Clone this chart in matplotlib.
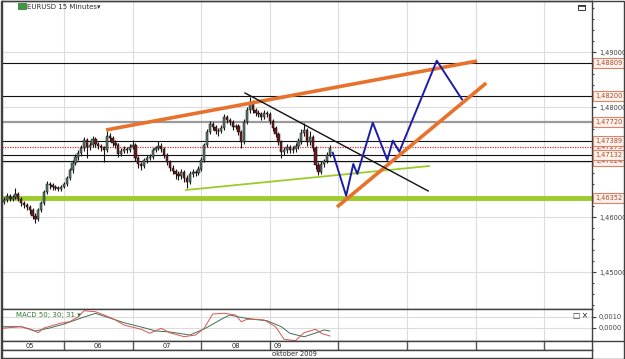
import numpy as np
import matplotlib.pyplot as plt
from matplotlib.patches import Rectangle
import matplotlib.transforms as mtransforms

# EURUSD, hourly bars, time in hours from 5 Oct 2009 00:00, prices in pips
hours = list(range(3, 118))
first_open = 14628
closes = [14631, 14638, 14633, 14636, 14642, 14633, 14625, 14622, 14618, 14613,
          14602, 14596, 14613, 14625, 14645, 14660, 14658, 14655, 14653, 14651,
          14655, 14660, 14671, 14685, 14698, 14709, 14716, 14725, 14740, 14727,
          14731, 14742, 14733, 14729, 14727, 14722, 14747, 14744, 14735, 14731,
          14715, 14720, 14724, 14722, 14727, 14731, 14707, 14696, 14693, 14704,
          14707, 14709, 14722, 14725, 14729, 14724, 14713, 14700, 14689, 14684,
          14678, 14675, 14682, 14671, 14664, 14678, 14682, 14680, 14687, 14704,
          14731, 14755, 14769, 14764, 14756, 14756, 14762, 14782, 14776, 14773,
          14764, 14765, 14755, 14736, 14773, 14795, 14809, 14795, 14789, 14787,
          14782, 14789, 14787, 14775, 14762, 14751, 14736, 14718, 14722, 14727,
          14722, 14724, 14729, 14738, 14753, 14758, 14736, 14745, 14725, 14695,
          14682, 14696, 14702, 14713, 14725]
highs = [14637, 14643, 14641, 14640, 14653, 14645, 14636, 14629, 14626, 14622,
         14616, 14607, 14617, 14629, 14649, 14666, 14664, 14662, 14659, 14657,
         14659, 14664, 14675, 14689, 14703, 14714, 14721, 14731, 14746, 14743,
         14737, 14747, 14745, 14737, 14733, 14730, 14756, 14752, 14748, 14740,
         14735, 14725, 14729, 14728, 14732, 14740, 14735, 14711, 14700, 14708,
         14712, 14714, 14726, 14730, 14738, 14734, 14728, 14717, 14704, 14694,
         14688, 14683, 14688, 14686, 14676, 14683, 14687, 14686, 14692, 14709,
         14735, 14760, 14775, 14773, 14768, 14762, 14767, 14787, 14786, 14780,
         14777, 14770, 14769, 14758, 14778, 14800, 14818, 14812, 14799, 14794,
         14791, 14795, 14793, 14791, 14779, 14766, 14755, 14740, 14727, 14732,
         14731, 14729, 14734, 14743, 14760, 14771, 14762, 14756, 14749, 14729,
         14700, 14701, 14706, 14718, 14731]
lows = [14624, 14627, 14629, 14630, 14633, 14629, 14620, 14616, 14612, 14606,
        14597, 14590, 14593, 14609, 14621, 14641, 14651, 14650, 14649, 14647,
        14648, 14652, 14656, 14667, 14680, 14694, 14704, 14711, 14720, 14707,
        14722, 14727, 14728, 14724, 14720, 14700, 14718, 14738, 14730, 14726,
        14709, 14711, 14716, 14717, 14718, 14723, 14702, 14690, 14686, 14689,
        14699, 14703, 14705, 14718, 14721, 14719, 14708, 14695, 14684, 14678,
        14670, 14668, 14670, 14663, 14653, 14660, 14673, 14675, 14676, 14683,
        14700, 14727, 14751, 14759, 14751, 14747, 14752, 14758, 14771, 14768,
        14759, 14760, 14750, 14725, 14733, 14769, 14790, 14790, 14784, 14782,
        14777, 14778, 14782, 14770, 14757, 14746, 14731, 14707, 14713, 14717,
        14716, 14717, 14719, 14724, 14733, 14748, 14730, 14731, 14720, 14688,
        14676, 14678, 14691, 14698, 14709]

# MACD 50;30;31 (x 1e-4)
macd_t = [2, 9, 12, 15, 17, 23, 26, 29, 31, 35, 38, 42, 45, 51, 54, 58, 61, 66, 70,
          73, 76, 80, 84, 86, 88, 91, 94, 98, 101, 105, 108, 112, 114, 117]
macd_v = [-0.3, 1.2, -0.9, -4.3, 0.0, 4.5, 5.7, 10.3, 15.7, 14.8, 11.8, 7.3, 2.7,
          -1.2, -4.8, -0.3, -4.3, -7.9, -6.4, -0.3, 12.7, 13.4, 11.8, 5.7, 7.9, 7.9,
          7.3, 1.2, -10.3, -11.5, -4.3, -1.2, -4.8, -7.3]
signal_t = [2, 9, 14, 19, 24, 30, 35, 40, 45, 51, 56, 61, 68, 73, 79, 82, 87, 91,
            95, 100, 103, 108, 112, 115, 117]
signal_v = [1.2, 1.2, -2.7, 0.0, 3.6, 9.1, 13.3, 9.1, 4.8, 0.9, -2.7, -3.6, -6.4,
            -0.9, 7.9, 11.8, 9.1, 7.7, 6.6, 1.2, -4.8, -8.0, -4.5, -1.8, -2.7]

# horizontal levels
black_levels = [1.48809, 1.48200, 1.47389, 1.47132, 1.47024]
grey_level = 1.47720
dotted_level = 1.47279
support_level = 1.46352
label_levels = [1.48809, 1.48200, 1.47720, 1.47024, 1.47279, 1.47389, 1.47132, 1.46352]

# drawn trend lines (hour, price)
upper_t, upper_p = [38.7, 168.5], [1.47582, 1.48836]
lower_t, lower_p = [119.5, 171.7], [1.46182, 1.48436]
down_t, down_p = [87.3, 151.4], [1.48255, 1.46473]
green_t, green_p = [66.7, 151.7], [1.46491, 1.46927]
path_t = [118.0, 122.7, 125.2, 126.6, 132.0, 137.1, 139.0, 141.3, 154.4, 163.2]
path_p = [1.47169, 1.46387, 1.46964, 1.46782, 1.47715, 1.47036, 1.47387, 1.47187,
          1.48842, 1.48140]

day_labels = ['05', '06', '07', '08', '09']

W, H = 625, 359
fig = plt.figure(figsize=(W / 100, H / 100), dpi=100)
fig.patch.set_facecolor('white')


def fr(x0, y0, x1, y1):
    return [x0 / W, 1 - y1 / H, (x1 - x0) / W, (y1 - y0) / H]


XL = (2.3, 208.7)
frame = '#404040'
gridc = '#dcdcdc'

ax = fig.add_axes(fr(2, 1, 592, 309))
axm = fig.add_axes(fr(2, 309, 592, 341))
axd = fig.add_axes(fr(2, 341, 592, 350))
axb = fig.add_axes(fr(2, 350, 592, 358))

for a in (ax, axm, axd, axb):
    a.set_xlim(*XL)
    for s in a.spines.values():
        s.set_color(frame)
        s.set_linewidth(1)
    a.set_xticks([])

# ---- main price panel
ax.set_ylim(1.443273, 1.499273)
for d in range(1, 9):
    ax.axvline(24 * d, color=gridc, lw=0.8, zorder=0)
    axm.axvline(24 * d, color=gridc, lw=0.8, zorder=0)
for p in [1.45, 1.46, 1.47, 1.48, 1.49]:
    ax.axhline(p, color=gridc, lw=0.8, zorder=0)

o = np.array([first_open] + closes[:-1]) / 1e4
c = np.array(closes) / 1e4
hi = np.array(highs) / 1e4
lo = np.array(lows) / 1e4
t = np.array(hours)
up = c >= o
ax.vlines(t, lo, hi, color='#141414', lw=0.8, zorder=3)
ax.bar(t[up], (c - o)[up], bottom=o[up], width=0.8, color='#58786a',
       edgecolor='#141414', lw=0.35, zorder=4)
ax.bar(t[~up], (c - o)[~up], bottom=o[~up], width=0.8, color='#6a1818',
       edgecolor='#141414', lw=0.35, zorder=4)

for p in black_levels:
    ax.axhline(p, color='#111111', lw=0.8, zorder=2)
ax.axhline(grey_level, color='#9a9a9a', lw=1.6, zorder=2)
ax.axhline(dotted_level, color='#c0392b', lw=0.9, ls=(0, (1, 1)), zorder=2)
ax.axhline(support_level, color='#9ccc2a', lw=3.5, zorder=2)

ax.plot(upper_t, upper_p, color='#e8722c', lw=2.6, solid_capstyle='butt', zorder=6)
ax.plot(lower_t, lower_p, color='#e8722c', lw=2.6, solid_capstyle='butt', zorder=6)
ax.plot(down_t, down_p, color='#111111', lw=1.0, zorder=6)
ax.plot(green_t, green_p, color='#9ccc2a', lw=1.3, zorder=5)
ax.plot(path_t, path_p, color='#1c1ca8', lw=1.4, zorder=7)

ax.yaxis.tick_right()
ax.set_yticks([1.45, 1.46, 1.47, 1.48, 1.49])
ax.set_yticklabels(['1,45000', '1,46000', '', '1,48000', '1,49000'])
ax.set_yticks(np.arange(1.444, 1.499, 0.002), minor=True)
ax.tick_params(axis='y', which='major', labelsize=4.8, colors=frame, length=3,
               width=0.8, pad=2)
ax.tick_params(axis='y', which='minor', length=1.5, width=0.8, colors=frame)

trans = mtransforms.blended_transform_factory(ax.transAxes, ax.transData)
off = mtransforms.offset_copy(trans, fig=fig, x=3, y=0, units='dots')
for i, p in enumerate(label_levels):
    ax.text(1.0, p, f"{p:.5f}".replace('.', ','), transform=off, fontsize=4.8,
            color='#b0482a', ha='left', va='center', clip_on=False, zorder=20 + i,
            bbox=dict(boxstyle='square,pad=0.3', fc='#fdf2ec', ec='#d9826c', lw=0.8))

ax.text(0.042, 0.99, 'EURUSD 15 Minutes\u25be', transform=ax.transAxes, fontsize=5,
        color='#303030', ha='left', va='top')
ax.add_patch(Rectangle((0.027, 0.975), 0.013, 0.02, transform=ax.transAxes,
                       facecolor='#3a9a45', edgecolor='#2a6a30', lw=0.5))
ax.add_patch(Rectangle((0.977, 0.972), 0.011, 0.016, transform=ax.transAxes,
                       facecolor='white', edgecolor='#333333', lw=0.7))
ax.add_patch(Rectangle((0.977, 0.984), 0.011, 0.004, transform=ax.transAxes,
                       facecolor='#333333', edgecolor='#333333', lw=0.5))

# ---- MACD panel
axm.set_ylim(-11.82, 17.27)
for v in (0, 10):
    axm.axhline(v, color=gridc, lw=0.8, zorder=0)
axm.plot(signal_t, signal_v, color='#3f6e55', lw=0.7)
axm.plot(macd_t, macd_v, color='#d9534f', lw=0.7)
axm.yaxis.tick_right()
axm.set_yticks([0, 10])
axm.set_yticklabels(['0,0000', '0,0010'])
axm.tick_params(axis='y', labelsize=4.8, colors=frame, length=3, width=0.8, pad=2)
axm.text(0.024, 0.8, 'MACD 50; 30; 31 \u25be', transform=axm.transAxes, fontsize=5,
         color='#2e7d32', ha='left', va='center')
axm.text(0.993, 0.8, '\u25a1\u2009\u00d7', transform=axm.transAxes, fontsize=5.5,
         color='#222222', ha='right', va='center')

# ---- date band
axd.set_ylim(0, 1)
axd.set_yticks([])
for d in range(1, 9):
    axd.axvline(24 * d, color='#555555', lw=1)
for i, lab in enumerate(day_labels[:4]):
    axd.text(24 * i + 12, 0.45, lab, fontsize=4.8, color='#222222',
             ha='center', va='center')
axd.text(24 * 4 + 1.2, 0.45, day_labels[4], fontsize=4.8, color='#222222',
         ha='left', va='center')

axb.set_ylim(0, 1)
axb.set_yticks([])
axb.text(0.495, 0.45, 'oktober 2009', transform=axb.transAxes, fontsize=4.8,
         color='#222222', ha='center', va='center')

fig.add_artist(plt.Line2D([592 / W, 1], [1 - 341 / H] * 2, color=frame, lw=1))
fig.add_artist(Rectangle((0.5 / W, 0.5 / H), 1 - 1.5 / W, 1 - 1.5 / H,
                         transform=fig.transFigure, fill=False, ec=frame, lw=1))

fig.savefig('out.png', dpi=100)
